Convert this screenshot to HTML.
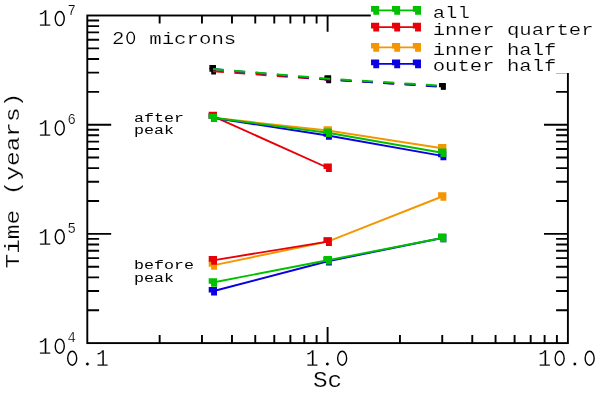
<!DOCTYPE html>
<html><head><meta charset="utf-8"><style>
html,body{margin:0;padding:0;background:#fff;width:600px;height:393px;overflow:hidden}
svg{display:block}
</style></head><body>
<svg xmlns="http://www.w3.org/2000/svg" width="600" height="393" viewBox="0 0 600 393">
<rect width="600" height="393" fill="#fff"/>
<g stroke="#000" stroke-width="1.9" fill="none">
<path d="M87.3 310.23h11.8M567.9 310.23h-11.8M87.3 291.00h11.8M567.9 291.00h-11.8M87.3 277.36h11.8M567.9 277.36h-11.8M87.3 266.77h11.8M567.9 266.77h-11.8M87.3 258.13h11.8M567.9 258.13h-11.8M87.3 250.82h11.8M567.9 250.82h-11.8M87.3 244.48h11.8M567.9 244.48h-11.8M87.3 238.90h11.8M567.9 238.90h-11.8M87.3 233.90h23.9M567.9 233.90h-23.9M87.3 201.03h11.8M567.9 201.03h-11.8M87.3 181.80h11.8M567.9 181.80h-11.8M87.3 168.16h11.8M567.9 168.16h-11.8M87.3 157.57h11.8M567.9 157.57h-11.8M87.3 148.93h11.8M567.9 148.93h-11.8M87.3 141.62h11.8M567.9 141.62h-11.8M87.3 135.28h11.8M567.9 135.28h-11.8M87.3 129.70h11.8M567.9 129.70h-11.8M87.3 124.70h23.9M567.9 124.70h-23.9M87.3 91.83h11.8M567.9 91.83h-11.8M87.3 72.60h11.8M567.9 72.60h-11.8M87.3 58.96h11.8M567.9 58.96h-11.8M87.3 48.37h11.8M567.9 48.37h-11.8M87.3 39.73h11.8M567.9 39.73h-11.8M87.3 32.42h11.8M567.9 32.42h-11.8M87.3 26.08h11.8M567.9 26.08h-11.8M87.3 20.50h11.8M567.9 20.50h-11.8M159.64 343.1v-8.2M159.64 15.5v8.0M201.95 343.1v-8.2M201.95 15.5v8.0M231.98 343.1v-8.2M231.98 15.5v8.0M255.26 343.1v-8.2M255.26 15.5v8.0M274.29 343.1v-8.2M274.29 15.5v8.0M290.38 343.1v-8.2M290.38 15.5v8.0M304.31 343.1v-8.2M304.31 15.5v8.0M316.60 343.1v-8.2M316.60 15.5v8.0M327.60 343.1v-16.2M327.60 15.5v16.3M399.94 343.1v-8.2M399.94 15.5v8.0M442.25 343.1v-8.2M442.25 15.5v8.0M472.28 343.1v-8.2M472.28 15.5v8.0M495.56 343.1v-8.2M495.56 15.5v8.0M514.59 343.1v-8.2M514.59 15.5v8.0M530.68 343.1v-8.2M530.68 15.5v8.0M544.61 343.1v-8.2M544.61 15.5v8.0M556.90 343.1v-8.2M556.90 15.5v8.0"/>
<rect x="87.3" y="15.5" width="480.60" height="327.60"/>
</g>
<path d="M209.40 65.00h6.6v6.6h-4.80v-2.6h-1.8z" fill="#000000"/>
<path d="M209.40 67.80h6.6v6.6h-4.80v-2.6h-1.8z" fill="#000000"/>
<path d="M324.50 75.30h6.6v6.6h-4.80v-2.6h-1.8z" fill="#000000"/>
<path d="M324.50 76.60h6.6v6.6h-4.80v-2.6h-1.8z" fill="#000000"/>
<path d="M439.10 82.90h6.6v6.6h-4.80v-2.6h-1.8z" fill="#000000"/>
<path d="M439.10 83.20h6.6v6.6h-4.80v-2.6h-1.8z" fill="#000000"/>
<polyline points="213.00,71.30 328.00,79.60 443.00,86.40" fill="none" stroke="rgb(232,0,8)" stroke-width="2" stroke-dasharray="10.9 10.45"/>
<polyline points="213.00,69.00 328.00,79.40 443.00,86.80" fill="none" stroke="rgb(10,0,225)" stroke-width="2" stroke-dasharray="10.9 10.45"/>
<polyline points="213.00,69.00 328.00,78.70 443.00,85.80" fill="none" stroke="rgb(0,192,0)" stroke-width="2" stroke-dasharray="10.9 10.45"/>
<polyline points="212.85,117.75 327.70,130.55 442.20,148.25" fill="none" stroke="rgb(245,150,0)" stroke-width="1.9"/>
<path d="M208.70 113.45h8.3v8.6h-5.90v-3.0h-2.4z" fill="rgb(245,150,0)"/>
<path d="M323.55 126.25h8.3v8.6h-5.90v-3.0h-2.4z" fill="rgb(245,150,0)"/>
<path d="M438.05 143.95h8.3v8.6h-5.90v-3.0h-2.4z" fill="rgb(245,150,0)"/>
<polyline points="212.85,116.15 327.70,167.75" fill="none" stroke="rgb(232,0,8)" stroke-width="1.9"/>
<path d="M208.70 111.85h8.3v8.6h-5.90v-3.0h-2.4z" fill="rgb(232,0,8)"/>
<path d="M323.55 163.45h8.3v8.6h-5.90v-3.0h-2.4z" fill="rgb(232,0,8)"/>
<polyline points="212.85,117.75 327.70,135.55 442.20,155.85" fill="none" stroke="rgb(10,0,225)" stroke-width="1.9"/>
<path d="M208.70 113.45h8.3v8.6h-5.90v-3.0h-2.4z" fill="rgb(10,0,225)"/>
<path d="M323.55 131.25h8.3v8.6h-5.90v-3.0h-2.4z" fill="rgb(10,0,225)"/>
<path d="M438.05 151.55h8.3v8.6h-5.90v-3.0h-2.4z" fill="rgb(10,0,225)"/>
<polyline points="212.85,117.75 327.70,132.75 442.20,152.75" fill="none" stroke="rgb(0,192,0)" stroke-width="1.9"/>
<path d="M208.70 113.45h8.3v8.6h-5.90v-3.0h-2.4z" fill="rgb(0,192,0)"/>
<path d="M323.55 128.45h8.3v8.6h-5.90v-3.0h-2.4z" fill="rgb(0,192,0)"/>
<path d="M438.05 148.45h8.3v8.6h-5.90v-3.0h-2.4z" fill="rgb(0,192,0)"/>
<polyline points="212.85,265.35 327.70,241.60 442.20,196.50" fill="none" stroke="rgb(245,150,0)" stroke-width="1.9"/>
<path d="M208.70 261.05h8.3v8.6h-5.90v-3.0h-2.4z" fill="rgb(245,150,0)"/>
<path d="M323.55 237.30h8.3v8.6h-5.90v-3.0h-2.4z" fill="rgb(245,150,0)"/>
<path d="M438.05 192.20h8.3v8.6h-5.90v-3.0h-2.4z" fill="rgb(245,150,0)"/>
<polyline points="212.85,260.35 327.70,241.60" fill="none" stroke="rgb(232,0,8)" stroke-width="1.9"/>
<path d="M208.70 256.05h8.3v8.6h-5.90v-3.0h-2.4z" fill="rgb(232,0,8)"/>
<path d="M323.55 237.30h8.3v8.6h-5.90v-3.0h-2.4z" fill="rgb(232,0,8)"/>
<polyline points="212.85,291.25 327.70,261.25 442.20,238.05" fill="none" stroke="rgb(10,0,225)" stroke-width="1.9"/>
<path d="M208.70 286.95h8.3v8.6h-5.90v-3.0h-2.4z" fill="rgb(10,0,225)"/>
<path d="M323.55 256.95h8.3v8.6h-5.90v-3.0h-2.4z" fill="rgb(10,0,225)"/>
<path d="M438.05 233.75h8.3v8.6h-5.90v-3.0h-2.4z" fill="rgb(10,0,225)"/>
<polyline points="212.85,282.50 327.70,260.25 442.20,238.05" fill="none" stroke="rgb(0,192,0)" stroke-width="1.9"/>
<path d="M208.70 278.20h8.3v8.6h-5.90v-3.0h-2.4z" fill="rgb(0,192,0)"/>
<path d="M323.55 255.95h8.3v8.6h-5.90v-3.0h-2.4z" fill="rgb(0,192,0)"/>
<path d="M438.05 233.75h8.3v8.6h-5.90v-3.0h-2.4z" fill="rgb(0,192,0)"/>
<rect x="370.8" y="0" width="200" height="73" fill="#fff"/><line x1="556" y1="73.5" x2="567" y2="73.5" stroke="#bbb" stroke-width="1"/>
<line x1="375.1" y1="10.4" x2="416.9" y2="10.4" stroke="rgb(0,192,0)" stroke-width="1.7"/>
<path d="M371.03 6.03h8.15v8.75h-5.90v-3.05h-2.25z" fill="rgb(0,192,0)"/>
<path d="M391.98 6.03h8.15v8.75h-5.90v-3.05h-2.25z" fill="rgb(0,192,0)"/>
<path d="M412.82 6.03h8.15v8.75h-5.90v-3.05h-2.25z" fill="rgb(0,192,0)"/>
<line x1="375.1" y1="27.1" x2="416.9" y2="27.1" stroke="rgb(232,0,8)" stroke-width="1.7"/>
<path d="M371.03 22.73h8.15v8.75h-5.90v-3.05h-2.25z" fill="rgb(232,0,8)"/>
<path d="M391.98 22.73h8.15v8.75h-5.90v-3.05h-2.25z" fill="rgb(232,0,8)"/>
<path d="M412.82 22.73h8.15v8.75h-5.90v-3.05h-2.25z" fill="rgb(232,0,8)"/>
<line x1="375.1" y1="47.3" x2="416.9" y2="47.3" stroke="rgb(245,150,0)" stroke-width="1.7"/>
<path d="M371.03 42.92h8.15v8.75h-5.90v-3.05h-2.25z" fill="rgb(245,150,0)"/>
<path d="M391.98 42.92h8.15v8.75h-5.90v-3.05h-2.25z" fill="rgb(245,150,0)"/>
<path d="M412.82 42.92h8.15v8.75h-5.90v-3.05h-2.25z" fill="rgb(245,150,0)"/>
<line x1="375.1" y1="63.9" x2="416.9" y2="63.9" stroke="rgb(10,0,225)" stroke-width="1.7"/>
<path d="M371.03 59.52h8.15v8.75h-5.90v-3.05h-2.25z" fill="rgb(10,0,225)"/>
<path d="M391.98 59.52h8.15v8.75h-5.90v-3.05h-2.25z" fill="rgb(10,0,225)"/>
<path d="M412.82 59.52h8.15v8.75h-5.90v-3.05h-2.25z" fill="rgb(10,0,225)"/>
<g font-family="Liberation Mono" fill="#000" stroke="#fff" style="filter:grayscale(1)">
<g><text transform="translate(44.70,26.30) scale(0.87,0.9226)" x="-7.50" font-size="25.00" stroke-width="0.3">1</text><ellipse cx="59.75" cy="18.55" rx="4.50" ry="7.05" fill="none" stroke="#000" stroke-width="1.4"/></g>
<g><text transform="translate(44.70,135.70) scale(0.87,0.9226)" x="-7.50" font-size="25.00" stroke-width="0.3">1</text><ellipse cx="59.75" cy="127.95" rx="4.50" ry="7.05" fill="none" stroke="#000" stroke-width="1.4"/></g>
<g><text transform="translate(44.70,244.50) scale(0.87,0.9226)" x="-7.50" font-size="25.00" stroke-width="0.3">1</text><ellipse cx="59.75" cy="236.75" rx="4.50" ry="7.05" fill="none" stroke="#000" stroke-width="1.4"/></g>
<g><text transform="translate(44.70,353.90) scale(0.87,0.9226)" x="-7.50" font-size="25.00" stroke-width="0.3">1</text><ellipse cx="59.75" cy="346.15" rx="4.50" ry="7.05" fill="none" stroke="#000" stroke-width="1.4"/></g>
<g><ellipse cx="72.20" cy="358.25" rx="4.50" ry="7.05" fill="none" stroke="#000" stroke-width="1.4"/><circle cx="87.40" cy="364.00" r="1.95" fill="#000"/><text transform="translate(102.15,366.00) scale(0.87,0.9226)" x="-7.50" font-size="25.00" stroke-width="0.3">1</text></g>
<g><text transform="translate(312.10,366.00) scale(0.87,0.9226)" x="-7.50" font-size="25.00" stroke-width="0.3">1</text><circle cx="327.35" cy="364.00" r="1.95" fill="#000"/><ellipse cx="342.15" cy="358.25" rx="4.50" ry="7.05" fill="none" stroke="#000" stroke-width="1.4"/></g>
<g><text transform="translate(544.60,366.00) scale(0.87,0.9226)" x="-7.50" font-size="25.00" stroke-width="0.3">1</text><ellipse cx="559.65" cy="358.25" rx="4.50" ry="7.05" fill="none" stroke="#000" stroke-width="1.4"/><circle cx="574.85" cy="364.00" r="1.95" fill="#000"/><ellipse cx="589.65" cy="358.25" rx="4.50" ry="7.05" fill="none" stroke="#000" stroke-width="1.4"/></g>
<g><text transform="translate(67.60,14.60) scale(1,1.0188597442011706)" font-size="14.00" stroke-width="0.2">7</text></g>
<g><text transform="translate(67.60,124.20) scale(1,1.0188597442011706)" font-size="14.00" stroke-width="0.2">6</text></g>
<g><text transform="translate(67.60,233.40) scale(1,1.0188597442011706)" font-size="14.00" stroke-width="0.2">5</text></g>
<g><text transform="translate(67.60,342.40) scale(1,1.0188597442011706)" font-size="14.00" stroke-width="0.2">4</text></g>
<g><text transform="translate(313.00,387.00) scale(1,0.88)" font-size="24.33" stroke-width="0.2">Sc</text></g>
<g><text transform="translate(19.4,268.5) rotate(-90) scale(1,0.86)" font-size="24.42" stroke-width="0.2">Time (years)</text></g>
<g><text transform="translate(118.22,44.20) scale(1.0,0.9141)" x="-6.22" font-size="20.75" stroke-width="0.25">2</text><ellipse cx="130.72" cy="37.85" rx="3.70" ry="5.75" fill="none" stroke="#000" stroke-width="1.4"/></g>
<g><text transform="translate(149.20,44.20) scale(1,0.77)" font-size="20.75" stroke-width="0.2">microns</text></g>
<g><text transform="translate(134.00,121.60) scale(1,0.82)" font-size="16.67" stroke-width="0.0">after</text></g>
<g><text transform="translate(134.00,133.90) scale(1,0.82)" font-size="16.67" stroke-width="0.0">peak</text></g>
<g><text transform="translate(134.00,268.70) scale(1,0.82)" font-size="16.67" stroke-width="0.0">before</text></g>
<g><text transform="translate(134.00,281.80) scale(1,0.82)" font-size="16.67" stroke-width="0.0">peak</text></g>
<g><text transform="translate(432.70,17.80) scale(1,0.82)" font-size="20.63" stroke-width="0.2">all</text></g>
<g><text transform="translate(432.70,34.60) scale(1,0.82)" font-size="20.63" stroke-width="0.2">inner quarter</text></g>
<g><text transform="translate(432.70,55.00) scale(1,0.82)" font-size="20.63" stroke-width="0.2">inner half</text></g>
<g><text transform="translate(432.70,71.00) scale(1,0.82)" font-size="20.63" stroke-width="0.2">outer half</text></g>
</g>
</svg>
</body></html>
